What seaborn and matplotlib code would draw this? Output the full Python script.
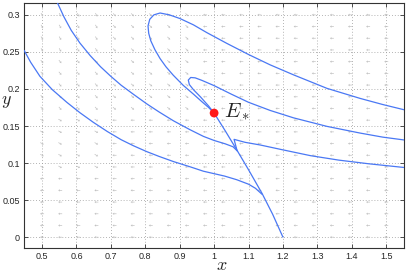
import numpy as np
import pandas as pd
import matplotlib
matplotlib.use("Agg")
import matplotlib.pyplot as plt
import seaborn as sns

# ---------------- data ----------------
# trajectory A (lowest, from the left edge)
traj_a_x = [0.448, 0.467, 0.494, 0.530, 0.572, 0.610, 0.649, 0.690, 0.730, 0.765, 0.804,
            0.840, 0.882, 0.930, 0.969, 1.030, 1.066, 1.100, 1.120, 1.139]
traj_a_y = [0.252, 0.236, 0.217, 0.199, 0.182, 0.168, 0.155, 0.1425, 0.1315, 0.1235, 0.1155,
            0.109, 0.102, 0.095, 0.089, 0.0825, 0.0775, 0.0715, 0.066, 0.058]
# trajectory B (from the top edge)
traj_b_x = [0.545, 0.564, 0.585, 0.610, 0.640, 0.670, 0.700, 0.730, 0.765, 0.804, 0.840,
            0.882, 0.930, 0.969, 1.000, 1.032, 1.055, 1.068]
traj_b_y = [0.316, 0.297, 0.279, 0.262, 0.245, 0.230, 0.217, 0.205, 0.193, 0.180, 0.169,
            0.157, 0.145, 0.136, 0.1305, 0.126, 0.122, 0.116]
# trajectory C (small loop, from the right edge into E*)
traj_c_x = [1.555, 1.490, 1.424, 1.328, 1.231, 1.163, 1.100, 1.050, 1.000, 0.965,
            0.945, 0.932, 0.925, 0.928, 0.940, 0.960, 0.984, 1.000]
traj_c_y = [0.131, 0.135, 0.1405, 0.1495, 0.161, 0.171, 0.182, 0.193, 0.2045, 0.2115,
            0.215, 0.2155, 0.212, 0.206, 0.199, 0.1895, 0.177, 0.1675]
# trajectory D (big loop, from the right edge into E*)
traj_d_x = [1.555, 1.490, 1.424, 1.328, 1.231, 1.163, 1.100, 1.037, 0.979, 0.940,
            0.901, 0.870, 0.843, 0.825, 0.813, 0.808, 0.810, 0.816, 0.828, 0.843, 0.860,
            0.881, 0.910, 0.940, 0.964, 0.984, 1.000]
traj_d_y = [0.1716, 0.179, 0.1873, 0.2008, 0.219, 0.2325, 0.2465, 0.2615, 0.276, 0.2865,
            0.295, 0.300, 0.3025, 0.300, 0.294, 0.285, 0.275, 0.265, 0.253, 0.241, 0.230,
            0.2187, 0.205, 0.193, 0.183, 0.175, 0.1675]
# trajectory E (from the right edge, turning down at the manifold)
traj_e_x = [1.553, 1.450, 1.362, 1.280, 1.192, 1.134, 1.090, 1.058, 1.066]
traj_e_y = [0.094, 0.099, 0.104, 0.110, 0.1186, 0.1244, 0.128, 0.132, 0.118]
# manifold from E* down to the x axis
manifold_x = [1.000, 1.033, 1.066, 1.100, 1.139, 1.170, 1.200]
manifold_y = [0.1675, 0.143, 0.1177, 0.091, 0.0593, 0.031, 0.000]

# equilibrium point
eq_x, eq_y = [1.0], [0.1675]
eq_label = "$E_*$"

# coarse direction map of the grey field arrows (degrees), rows bottom->top
field_x_bands = [0.45, 0.70, 0.95, 1.20, 1.56]
field_y_bands = [-0.01, 0.08, 0.16, 0.24, 0.33]
field_angles = [
    [180, 180, 180, 180],
    [-30, 180, 180, 180],
    [-50, -40, 180, 180],
    [-60, -45, 180, 180],
]

x_ticks = [0.5, 0.6, 0.7, 0.8, 0.9, 1.0, 1.1, 1.2, 1.3, 1.4, 1.5]
x_tick_labels = ["0.5", "0.6", "0.7", "0.8", "0.9", "1", "1.1", "1.2", "1.3", "1.4", "1.5"]
y_ticks = [0, 0.05, 0.1, 0.15, 0.2, 0.25, 0.3]
y_tick_labels = ["0", "0.05", "0.1", "0.15", "0.2", "0.25", "0.3"]

# ---------------- drawing ----------------
sns.set_theme(style="white")
plt.rcParams["font.family"] = ["Liberation Sans", "DejaVu Sans"]
plt.rcParams["mathtext.fontset"] = "cm"

fig = plt.figure(figsize=(4.09, 2.73), dpi=100)
ax = fig.add_axes([0.059, 0.0905, 0.929, 0.8985])

# field arrows
gx = np.linspace(0.5, 1.5, 20)
gy = np.linspace(0.0, 0.3, 20)
GX, GY = np.meshgrid(gx, gy)
ix = np.clip(np.searchsorted(field_x_bands, GX) - 1, 0, 3)
iy = np.clip(np.searchsorted(field_y_bands, GY) - 1, 0, 3)
ang = np.deg2rad(np.array(field_angles)[iy, ix])
ax.quiver(GX, GY, np.cos(ang), np.sin(ang), angles="uv", units="dots",
          scale_units="dots", scale=0.25, width=0.7, headwidth=3.5, headlength=2.6,
          headaxislength=2.3, color="#c2c2c2", pivot="middle", zorder=1)

blue = "#4a78f4"
rows = []
for name, xs, ys in [("A", traj_a_x, traj_a_y), ("B", traj_b_x, traj_b_y),
                     ("C", traj_c_x, traj_c_y), ("D", traj_d_x, traj_d_y),
                     ("E", traj_e_x, traj_e_y), ("M", manifold_x, manifold_y)]:
    for i, (xv, yv) in enumerate(zip(xs, ys)):
        rows.append({"curve": name, "order": i, "x": xv, "y": yv})
df = pd.DataFrame(rows)
sns.lineplot(data=df, x="x", y="y", units="curve", estimator=None, sort=False,
             color=blue, lw=0.9, ax=ax, zorder=3)

sns.scatterplot(x=eq_x, y=eq_y, color="#ff1a1a", s=40, edgecolor="none", ax=ax, zorder=5)
ax.text(eq_x[0] + 0.03, eq_y[0] + 0.002, eq_label, fontsize=15, ha="left", va="center")

ax.set_xlim(0.448, 1.552)
ax.set_ylim(-0.015, 0.316)
ax.set_xticks(x_ticks)
ax.set_xticklabels(x_tick_labels)
ax.set_yticks(y_ticks)
ax.set_yticklabels(y_tick_labels)
ax.tick_params(direction="in", length=3, width=0.6, labelsize=6.5, pad=3,
               top=True, right=True, bottom=True, left=True, color="#333333")
ax.grid(True, linestyle=(0, (1, 2.5)), color="#9a9a9a", lw=0.6)
for s in ax.spines.values():
    s.set_color("#333333")
    s.set_linewidth(0.8)
ax.set_xlabel("$x$", fontsize=13, labelpad=0, va="center")
ax.set_ylabel("$y$", fontsize=13, rotation=0, labelpad=5, va="center")
ax.xaxis.set_label_coords(0.52, -0.07)
ax.yaxis.set_label_coords(-0.047, 0.60)

fig.savefig("out.png", dpi=100)
